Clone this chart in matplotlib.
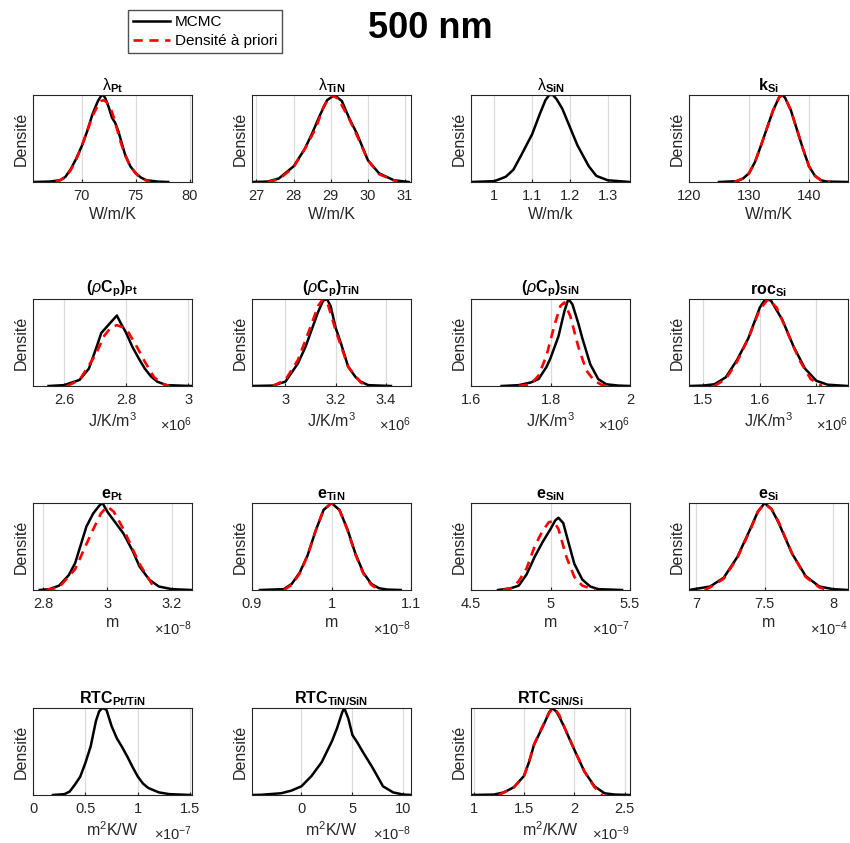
import matplotlib
matplotlib.use("Agg")
from matplotlib import pyplot as plt

plt.rcParams['font.family'] = ['Liberation Sans', 'DejaVu Sans']
plt.rcParams['mathtext.fontset'] = 'custom'
plt.rcParams['mathtext.rm'] = 'Liberation Sans'
plt.rcParams['mathtext.bf'] = 'Liberation Sans:bold'
plt.rcParams['mathtext.it'] = 'Liberation Sans:italic'

# --- lambda Pt
lam_pt_x = [65.5, 67, 68, 68.5, 69, 69.5, 70, 70.5, 71, 71.5, 71.8, 72, 72.2, 72.5, 72.8, 73.1, 73.4, 74, 74.5, 75, 75.5, 76, 77, 78]
lam_pt_mcmc = [0, 0.005, 0.02, 0.06, 0.15, 0.27, 0.41, 0.58, 0.78, 0.93, 0.99, 1.0, 0.96, 0.86, 0.74, 0.68, 0.58, 0.32, 0.18, 0.1, 0.05, 0.02, 0.005, 0]
lam_pt_px = [67.6, 68.5, 69, 69.5, 70, 70.5, 71, 71.5, 71.8, 72, 72.3, 72.7, 73, 73.5, 74, 74.5, 75, 75.5, 76.3]
lam_pt_prior = [0, 0.05, 0.14, 0.26, 0.41, 0.58, 0.76, 0.88, 0.93, 0.94, 0.92, 0.84, 0.73, 0.5, 0.31, 0.18, 0.1, 0.04, 0]

# --- lambda TiN
lam_tin_x = [26.88, 27.3, 27.6, 28, 28.3, 28.5, 28.7, 28.9, 29.1, 29.3, 29.5, 29.7, 30, 30.3, 30.7, 31.1]
lam_tin_mcmc = [0, 0.005, 0.04, 0.18, 0.38, 0.56, 0.76, 0.94, 1.0, 0.93, 0.73, 0.56, 0.25, 0.1, 0.02, 0]
lam_tin_px = [27.3, 27.6, 28, 28.3, 28.6, 28.8, 29.0, 29.2, 29.5, 29.7, 30, 30.3, 30.8]
lam_tin_prior = [0, 0.03, 0.17, 0.38, 0.62, 0.86, 1.0, 0.96, 0.72, 0.54, 0.25, 0.09, 0]

# --- lambda SiN
lam_sin_x = [0.938, 1.0, 1.03, 1.05, 1.07, 1.1, 1.12, 1.135, 1.145, 1.155, 1.165, 1.18, 1.2, 1.22, 1.25, 1.27, 1.3, 1.359]
lam_sin_mcmc = [0, 0.01, 0.06, 0.14, 0.3, 0.55, 0.78, 0.94, 1.0, 1.0, 0.95, 0.84, 0.63, 0.42, 0.18, 0.07, 0.02, 0]

# --- k Si
k_si_x = [125, 128, 129, 130, 131, 132, 133, 134, 135, 135.5, 136, 137, 138, 139, 140, 141, 142, 143, 146.5]
k_si_mcmc = [0, 0.01, 0.04, 0.1, 0.23, 0.42, 0.62, 0.82, 0.97, 1.0, 0.97, 0.82, 0.6, 0.38, 0.18, 0.07, 0.02, 0.005, 0]
k_si_px = [127.5, 129, 130, 131, 132, 133, 134, 135, 135.5, 136, 137, 138, 139, 140, 141, 142, 143.5]
k_si_prior = [0, 0.04, 0.1, 0.23, 0.42, 0.62, 0.82, 0.97, 1.0, 0.97, 0.82, 0.6, 0.38, 0.18, 0.07, 0.02, 0]

# --- (rho Cp) Pt  (x 1e6)
rcp_pt_x = [2.55, 2.6, 2.65, 2.68, 2.7, 2.72, 2.74, 2.76, 2.77, 2.78, 2.8, 2.82, 2.84, 2.86, 2.88, 2.9, 2.93, 3.01]
rcp_pt_mcmc = [0, 0.01, 0.07, 0.2, 0.4, 0.61, 0.69, 0.77, 0.81, 0.74, 0.61, 0.45, 0.32, 0.2, 0.11, 0.05, 0.01, 0]
rcp_pt_px = [2.61, 2.65, 2.7, 2.73, 2.75, 2.77, 2.8, 2.83, 2.86, 2.89, 2.92, 2.94]
rcp_pt_prior = [0, 0.07, 0.35, 0.58, 0.67, 0.7, 0.66, 0.48, 0.28, 0.1, 0.02, 0]

# --- (rho Cp) TiN  (x 1e6)
rcp_tin_x = [2.867, 2.95, 3.0, 3.05, 3.08, 3.1, 3.13, 3.15, 3.165, 3.18, 3.2, 3.22, 3.25, 3.28, 3.3, 3.33, 3.42]
rcp_tin_mcmc = [0, 0.005, 0.05, 0.26, 0.45, 0.61, 0.85, 0.98, 1.0, 0.92, 0.67, 0.5, 0.22, 0.1, 0.05, 0.01, 0]
rcp_tin_px = [2.95, 3.0, 3.05, 3.1, 3.13, 3.15, 3.17, 3.2, 3.25, 3.3, 3.33]
rcp_tin_prior = [0, 0.07, 0.3, 0.68, 0.92, 1.0, 0.93, 0.64, 0.22, 0.04, 0]

# --- (rho Cp) SiN  (x 1e6)
rcp_sin_x = [1.677, 1.72, 1.75, 1.77, 1.79, 1.8, 1.82, 1.835, 1.845, 1.855, 1.87, 1.88, 1.9, 1.92, 1.94, 1.97, 2.0]
rcp_sin_mcmc = [0, 0.01, 0.04, 0.08, 0.22, 0.32, 0.57, 0.86, 1.0, 0.94, 0.72, 0.55, 0.25, 0.08, 0.02, 0.005, 0]
rcp_sin_px = [1.72, 1.75, 1.77, 1.79, 1.81, 1.825, 1.835, 1.85, 1.87, 1.89, 1.91, 1.93, 1.95]
rcp_sin_prior = [0, 0.02, 0.12, 0.35, 0.7, 0.92, 0.96, 0.8, 0.45, 0.18, 0.06, 0.01, 0]

# --- roc Si  (x 1e6)
roc_si_x = [1.475, 1.5, 1.52, 1.54, 1.56, 1.58, 1.6, 1.61, 1.62, 1.64, 1.66, 1.68, 1.7, 1.72, 1.756]
roc_si_mcmc = [0, 0.005, 0.02, 0.1, 0.3, 0.55, 0.9, 1.0, 0.98, 0.76, 0.45, 0.2, 0.06, 0.015, 0]
roc_si_px = [1.52, 1.54, 1.56, 1.58, 1.6, 1.615, 1.63, 1.65, 1.67, 1.69, 1.71]
roc_si_prior = [0, 0.08, 0.28, 0.55, 0.88, 1.0, 0.9, 0.6, 0.3, 0.08, 0]

# --- e Pt  (x 1e-8)
e_pt_x = [2.79, 2.82, 2.85, 2.88, 2.9, 2.935, 2.956, 2.975, 2.985, 3.0, 3.05, 3.08, 3.1, 3.13, 3.16, 3.2, 3.263]
e_pt_mcmc = [0, 0.01, 0.05, 0.17, 0.31, 0.73, 0.88, 0.97, 1.0, 0.9, 0.65, 0.44, 0.27, 0.12, 0.04, 0.01, 0]
e_pt_px = [2.81, 2.85, 2.9, 2.95, 2.98, 3.0, 3.02, 3.05, 3.1, 3.13, 3.15]
e_pt_prior = [0, 0.03, 0.24, 0.65, 0.88, 0.96, 0.9, 0.7, 0.3, 0.12, 0]

# --- e TiN  (x 1e-8)
e_tin_x = [0.91, 0.94, 0.95, 0.96, 0.97, 0.98, 0.99, 1.0, 1.01, 1.02, 1.03, 1.04, 1.05, 1.06, 1.07, 1.087]
e_tin_mcmc = [0, 0.01, 0.07, 0.2, 0.4, 0.68, 0.92, 1.0, 0.92, 0.7, 0.42, 0.2, 0.07, 0.02, 0.005, 0]
e_tin_px = [0.94, 0.95, 0.96, 0.97, 0.98, 0.99, 1.0, 1.01, 1.02, 1.03, 1.04, 1.05, 1.06]
e_tin_prior = [0, 0.06, 0.19, 0.4, 0.68, 0.92, 1.0, 0.92, 0.69, 0.41, 0.19, 0.06, 0]

# --- e SiN  (x 1e-7)
e_sin_x = [4.67, 4.75, 4.8, 4.85, 4.9, 4.95, 5.0, 5.03, 5.05, 5.08, 5.12, 5.15, 5.2, 5.25, 5.3, 5.45]
e_sin_mcmc = [0, 0.02, 0.05, 0.18, 0.38, 0.55, 0.7, 0.8, 0.83, 0.77, 0.5, 0.3, 0.12, 0.04, 0.01, 0]
e_sin_px = [4.7, 4.75, 4.8, 4.85, 4.9, 4.95, 4.99, 5.02, 5.05, 5.1, 5.15, 5.2, 5.28]
e_sin_prior = [0, 0.02, 0.1, 0.25, 0.5, 0.68, 0.78, 0.79, 0.7, 0.38, 0.15, 0.05, 0]

# --- e Si  (x 1e-4)
e_si_x = [6.946, 7.1, 7.2, 7.3, 7.4, 7.45, 7.5, 7.55, 7.6, 7.7, 7.8, 7.9, 8.0, 8.11]
e_si_mcmc = [0, 0.04, 0.14, 0.38, 0.72, 0.9, 1.0, 0.93, 0.78, 0.42, 0.16, 0.04, 0.01, 0]
e_si_px = [7.06, 7.1, 7.2, 7.3, 7.4, 7.45, 7.5, 7.55, 7.6, 7.7, 7.8, 7.9, 7.96]
e_si_prior = [0, 0.03, 0.13, 0.37, 0.71, 0.9, 0.99, 0.93, 0.79, 0.42, 0.15, 0.03, 0]

# --- RTC Pt/TiN  (x 1e-7)
rtc1_x = [0.19, 0.3, 0.35, 0.4, 0.45, 0.5, 0.55, 0.6, 0.63, 0.66, 0.7, 0.75, 0.8, 0.85, 0.9, 0.95, 1.0, 1.05, 1.1, 1.2, 1.3, 1.5]
rtc1_mcmc = [0, 0.01, 0.04, 0.12, 0.21, 0.37, 0.56, 0.85, 0.96, 1.0, 0.98, 0.79, 0.65, 0.55, 0.44, 0.32, 0.21, 0.13, 0.08, 0.03, 0.01, 0]

# --- RTC TiN/SiN  (x 1e-8)
rtc2_x = [-4.85, -4, -2, -1, 0, 1, 2, 3, 3.5, 4, 4.2, 4.6, 5, 5.5, 6, 7, 8, 9, 10, 10.75]
rtc2_mcmc = [0, 0.002, 0.02, 0.05, 0.1, 0.22, 0.38, 0.62, 0.77, 0.95, 1.0, 0.88, 0.69, 0.6, 0.5, 0.31, 0.1, 0.03, 0.005, 0]

# --- RTC SiN/Si  (x 1e-9)
rtc3_x = [0.973, 1.2, 1.3, 1.4, 1.5, 1.55, 1.6, 1.7, 1.75, 1.78, 1.82, 1.85, 1.9, 2.0, 2.1, 2.2, 2.3, 2.4, 2.553]
rtc3_mcmc = [0, 0.005, 0.03, 0.09, 0.22, 0.38, 0.58, 0.82, 0.95, 1.0, 0.96, 0.9, 0.78, 0.52, 0.27, 0.1, 0.02, 0.005, 0]
rtc3_px = [1.25, 1.3, 1.4, 1.5, 1.55, 1.6, 1.7, 1.75, 1.8, 1.85, 1.9, 2.0, 2.1, 2.2, 2.28]
rtc3_prior = [0, 0.03, 0.09, 0.22, 0.38, 0.58, 0.83, 0.95, 1.0, 0.92, 0.78, 0.52, 0.27, 0.09, 0]

titles = [r'$\mathrm{\lambda}_{\mathbf{Pt}}$', r'$\mathrm{\lambda}_{\mathbf{TiN}}$', r'$\mathrm{\lambda}_{\mathbf{SiN}}$', r'$\mathbf{k_{Si}}$',
          r'$\mathbf{(}\rho\mathbf{C_p)_{Pt}}$', r'$\mathbf{(}\rho\mathbf{C_p)_{TiN}}$',
          r'$\mathbf{(}\rho\mathbf{C_p)_{SiN}}$', r'$\mathbf{roc_{Si}}$',
          r'$\mathbf{e_{Pt}}$', r'$\mathbf{e_{TiN}}$', r'$\mathbf{e_{SiN}}$', r'$\mathbf{e_{Si}}$',
          r'$\mathbf{RTC_{Pt/TiN}}$', r'$\mathbf{RTC_{TiN/SiN}}$', r'$\mathbf{RTC_{SiN/Si}}$']
xlabels = ['W/m/K', 'W/m/K', 'W/m/k', 'W/m/K',
           r'J/K/m$^3$', r'J/K/m$^3$', r'J/K/m$^3$', r'J/K/m$^3$',
           'm', 'm', 'm', 'm',
           r'm$^2$K/W', r'm$^2$K/W', r'm$^2$/K/W']
exponents = ['', '', '', '', '6', '6', '6', '6', '-8', '-8', '-7', '-4', '-7', '-8', '-9']
xlims = [(65.5, 80.2), (26.88, 31.16), (0.938, 1.359), (120, 146.5),
         (2.50, 3.012), (2.867, 3.50), (1.6, 2.0), (1.475, 1.756),
         (2.769, 3.263), (0.9, 1.1), (4.5, 5.5), (6.946, 8.11),
         (0, 1.516), (-4.85, 10.75), (0.973, 2.553)]
xticks = [[70, 75, 80], [27, 28, 29, 30, 31], [1, 1.1, 1.2, 1.3], [120, 130, 140],
          [2.6, 2.8, 3], [3, 3.2, 3.4], [1.6, 1.8, 2], [1.5, 1.6, 1.7],
          [2.8, 3, 3.2], [0.9, 1, 1.1], [4.5, 5, 5.5], [7, 7.5, 8],
          [0, 0.5, 1, 1.5], [0, 5, 10], [1, 1.5, 2, 2.5]]
mcmc = [(lam_pt_x, lam_pt_mcmc), (lam_tin_x, lam_tin_mcmc), (lam_sin_x, lam_sin_mcmc), (k_si_x, k_si_mcmc),
        (rcp_pt_x, rcp_pt_mcmc), (rcp_tin_x, rcp_tin_mcmc), (rcp_sin_x, rcp_sin_mcmc), (roc_si_x, roc_si_mcmc),
        (e_pt_x, e_pt_mcmc), (e_tin_x, e_tin_mcmc), (e_sin_x, e_sin_mcmc), (e_si_x, e_si_mcmc),
        (rtc1_x, rtc1_mcmc), (rtc2_x, rtc2_mcmc), (rtc3_x, rtc3_mcmc)]
prior = [(lam_pt_px, lam_pt_prior), (lam_tin_px, lam_tin_prior), None, (k_si_px, k_si_prior),
         (rcp_pt_px, rcp_pt_prior), (rcp_tin_px, rcp_tin_prior), (rcp_sin_px, rcp_sin_prior), (roc_si_px, roc_si_prior),
         (e_pt_px, e_pt_prior), (e_tin_px, e_tin_prior), (e_sin_px, e_sin_prior), (e_si_px, e_si_prior),
         None, None, (rtc3_px, rtc3_prior)]

W, H = 850, 843
fig = plt.figure(figsize=(W / 100, H / 100), dpi=100)
col_left = [33, 252, 471, 689]
row_top = [95, 299, 503, 708]
aw, ah = 159, 87
dark = '#262626'

for i in range(15):
    r, c = divmod(i, 4)
    ax = fig.add_axes([col_left[c] / W, 1 - (row_top[r] + ah) / H, aw / W, ah / H])
    ax.set_xlim(*xlims[i])
    ax.set_ylim(0, 1.0)
    ax.set_xticks(xticks[i])
    ax.set_xticklabels([f'{t:g}' for t in xticks[i]])
    ax.set_yticks([])
    ax.grid(axis='x', color='#dcdcdc', linewidth=0.9)
    ax.set_axisbelow(True)
    ax.tick_params(axis='x', direction='in', length=2, labelsize=10.5, pad=5, color=dark, labelcolor=dark)
    for s in ax.spines.values():
        s.set_color(dark)
        s.set_linewidth(0.8)
    ax.plot(*mcmc[i], color='black', linewidth=1.8, solid_joinstyle='round')
    if prior[i] is not None:
        ax.plot(*prior[i], color='red', linestyle='--', linewidth=1.9, dashes=(3.5, 2.5))
    ax.set_title(titles[i], fontsize=11.5, fontweight='bold', pad=1)
    ax.set_ylabel('Densité', fontsize=11.5, labelpad=3, color=dark)
    ax.set_xlabel(xlabels[i], fontsize=11.5, labelpad=3, color=dark)
    if exponents[i]:
        ax.text(1.0, -0.44, r'$\times$10$^{%s}$' % exponents[i], transform=ax.transAxes,
                ha='right', va='center', fontsize=10.5, color=dark)

fig.text(430 / W, 1 - 28 / H, '500 nm', fontsize=26, fontweight='bold', ha='center', va='center')
leg_l1 = plt.Line2D([], [], color='black', linewidth=1.8)
leg_l2 = plt.Line2D([], [], color='red', linestyle='--', linewidth=1.9, dashes=(3.5, 2.5))
fig.legend([leg_l1, leg_l2], ['MCMC', 'Densité à priori'], loc='upper left',
           bbox_to_anchor=(128 / W, 1 - 10 / H), fontsize=11, frameon=True, fancybox=False,
           edgecolor=dark, handlelength=2.4, borderpad=0.35, labelspacing=0.3,
           handletextpad=0.3, borderaxespad=0)

fig.savefig('out.png', dpi=100)
